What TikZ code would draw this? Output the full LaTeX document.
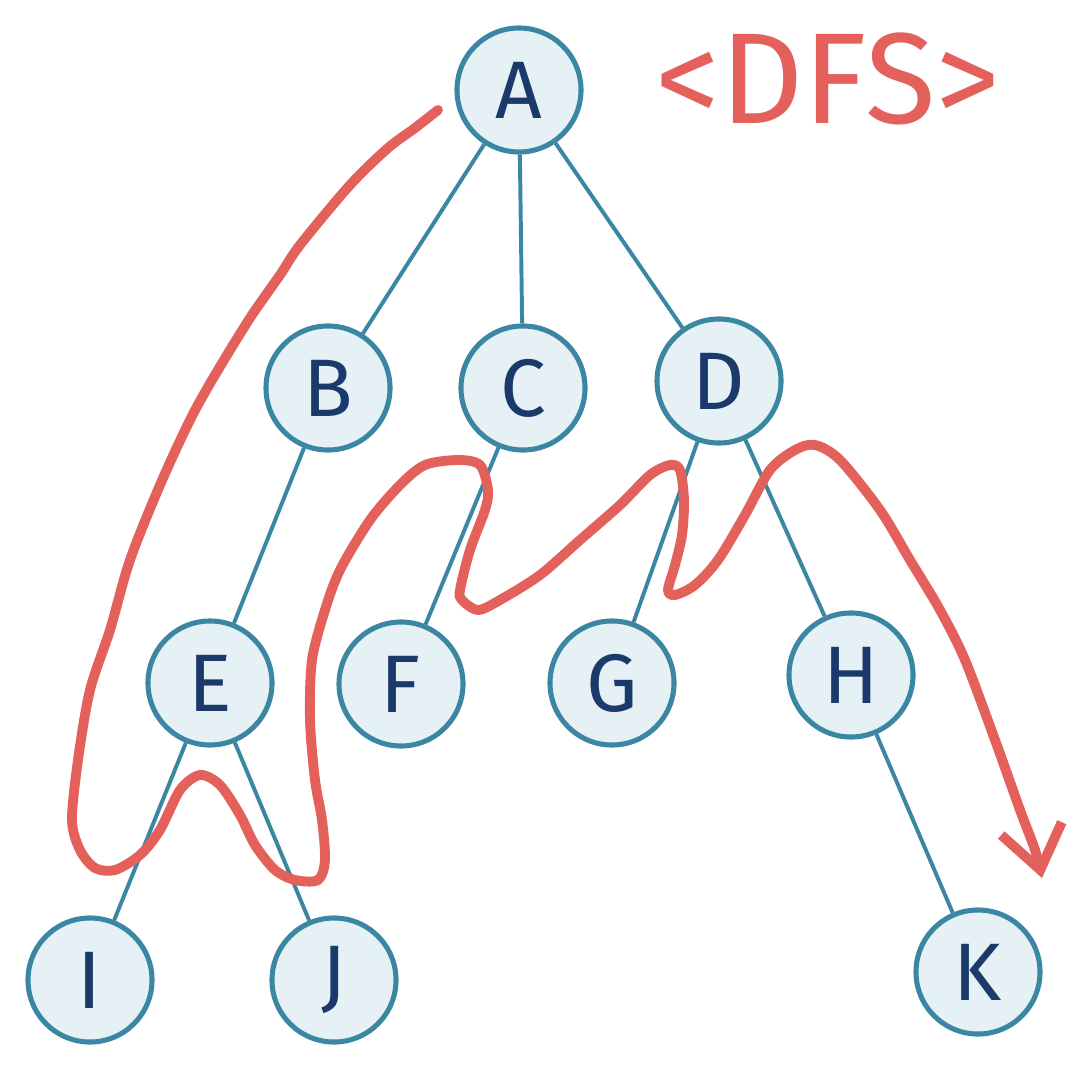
\documentclass[tikz,border=0pt]{standalone}
\usepackage{fontspec}
\setmainfont{Fira Sans}
\usetikzlibrary{arrows.meta,backgrounds}
\definecolor{treeteal}{HTML}{3A86A3}
\definecolor{treefill}{HTML}{E5F1F4}
\definecolor{treenavy}{HTML}{1B3A6B}
\definecolor{dfsred}{HTML}{E4605A}
\tikzstyle{vertex} = [circle, draw=treeteal, fill=treefill, line width=3.6pt,
  minimum size=3.1cm, inner sep=0pt, text=treenavy,
  font=\fontsize{58}{64}\selectfont]
\tikzstyle{branch} = [draw=treeteal, line width=2.8pt]
\tikzstyle{walk} = [draw=dfsred, line width=7pt, line cap=round, line join=round]

\begin{document}
\begin{tikzpicture}[x=0.025cm, y=-0.025cm]
  \useasboundingbox (0,0) rectangle (1083,1070);
  % the tree
  \node[vertex] (A) at (519,90) {A};
  \node[vertex] (B) at (328,388) {B};
  \node[vertex] (C) at (523,388) {C};
  \node[vertex] (D) at (719,381) {D};
  \node[vertex] (E) at (210,683) {E};
  \node[vertex] (F) at (401,684) {F};
  \node[vertex] (G) at (612,683) {G};
  \node[vertex] (H) at (851,675) {H};
  \node[vertex] (I) at (90,980) {I};
  \node[vertex] (J) at (334,980) {J};
  \node[vertex] (K) at (978,972) {K};
  \begin{scope}[on background layer]
    \foreach \p/\q in {A/B, A/C, A/D, B/E, C/F, D/G, D/H, E/I, E/J, H/K}
      \draw[branch] (\p) -- (\q);
  \end{scope}
  % title
  \node[text=dfsred, font=\fontsize{92}{100}\selectfont] (title) at (828,79) {<DFS>};
  % depth first walk
  \draw[walk, -{Straight Barb[length=30pt, width=44pt, line width=7pt]}]
    plot[smooth, tension=0.5] coordinates {
      (438,110) (415,128) (388,148) (350,185) (300,245) (280,275) (250,318)
      (215,375) (190,420) (160,485) (130,560) (110,630) (90,690) (78,760)
      (72,820) (80,850) (95,868) (115,870) (140,855) (160,830) (180,790)
      (200,775) (220,785) (240,815) (255,845) (275,870) (295,880) (318,880)
      (325,860) (322,820) (315,780) (310,720) (312,660) (325,610) (340,570)
      (370,520) (400,485) (425,465) (458,460) (480,465) (488,490) (485,510)
      (470,550) (460,590) (462,600) (478,610) (500,600) (540,575) (580,540)
      (620,505) (650,475) (670,465) (680,470) (684,500) (682,535) (675,565)
      (668,590) (675,595) (695,585) (718,560) (745,515) (770,470) (795,450)
      (815,445) (840,460) (880,510) (910,560) (940,610) (965,660) (995,740)
      (1020,810) (1035,850) (1042,878)};
\end{tikzpicture}
\end{document}
